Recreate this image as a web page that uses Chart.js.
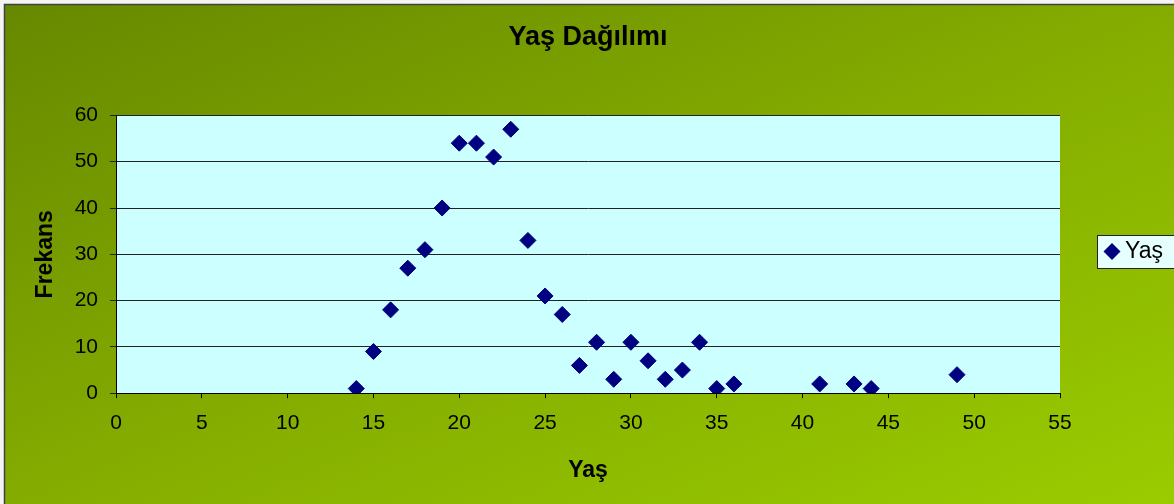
<!DOCTYPE html>
<html>
<head>
<meta charset="utf-8">
<script src="https://cdn.jsdelivr.net/npm/chart.js@4.4.1/dist/chart.umd.min.js"></script>
<style>
  html, body { margin: 0; padding: 0; background: #fff; }
  #wrap { width: 1174px; height: 504px; position: relative; }
</style>
</head>
<body>
<div id="wrap"><canvas id="ageChart"></canvas></div>
<script>
// ages (x) and their frequency (y)
const ages = [14, 15, 16, 17, 18, 19, 20, 21, 22, 23, 24, 25, 26, 27, 28, 29, 30, 31, 32, 33, 34, 35, 36, 41, 43, 44, 49];
const counts = [1, 9, 18, 27, 31, 40, 54, 54, 51, 57, 33, 21, 17, 6, 11, 3, 11, 7, 3, 5, 11, 1, 2, 2, 2, 1, 4];
const xTicks = [0, 5, 10, 15, 20, 25, 30, 35, 40, 45, 50, 55];
const yTicks = [0, 10, 20, 30, 40, 50, 60];

const points = ages.map((a, i) => ({ x: a, y: counts[i] }));
const FONT = '"Liberation Sans", Arial, sans-serif';

// background gradient, plot fill and the boxed legend
const backdrop = {
  id: 'backdrop',
  beforeDraw(chart) {
    const ctx = chart.ctx;
    const a = chart.chartArea;
    ctx.save();
    ctx.fillStyle = '#f4f4f4';
    ctx.fillRect(0, 0, chart.width, chart.height);
    const g = ctx.createLinearGradient(0, 0, 365, 851);
    g.addColorStop(0, '#668800');
    g.addColorStop(0.5, '#84ac00');
    g.addColorStop(1, '#9acc00');
    ctx.fillStyle = g;
    ctx.fillRect(5, 5, chart.width, chart.height);
    ctx.strokeStyle = '#404040';
    ctx.lineWidth = 1.5;
    ctx.strokeRect(4.5, 4.5, chart.width + 10, chart.height + 10);
    ctx.fillStyle = '#ccffff';
    ctx.fillRect(a.left, a.top, a.right - a.left, a.bottom - a.top);
    ctx.restore();
  },
  afterDraw(chart) {
    const ctx = chart.ctx;
    ctx.save();
    ctx.fillStyle = '#e6ffff';
    ctx.fillRect(1097, 235, 90, 33);
    ctx.strokeStyle = '#222';
    ctx.lineWidth = 1;
    ctx.strokeRect(1097.5, 235.5, 90, 33);
    // marker
    ctx.fillStyle = '#000080';
    ctx.beginPath();
    ctx.moveTo(1112, 243);
    ctx.lineTo(1120.5, 251.5);
    ctx.lineTo(1112, 260);
    ctx.lineTo(1103.5, 251.5);
    ctx.closePath();
    ctx.fill();
    ctx.fillStyle = '#000';
    ctx.font = '23px ' + FONT;
    ctx.textBaseline = 'middle';
    ctx.fillText('Yaş', 1125, 252);
    ctx.restore();
  }
};

const ctx = document.getElementById('ageChart').getContext('2d');
new Chart(ctx, {
  type: 'scatter',
  data: {
    datasets: [{
      label: 'Yaş',
      data: points,
      pointStyle: 'rectRot',
      pointRadius: 8,
      pointHoverRadius: 8,
      backgroundColor: '#000080',
      borderColor: '#000080',
      borderWidth: 1
    }]
  },
  options: {
    responsive: true,
    maintainAspectRatio: false,
    animation: false,
    layout: { padding: { left: 10, right: 114, top: 0, bottom: 0 } },
    plugins: {
      legend: { display: false },
      tooltip: { enabled: false },
      title: {
        display: true,
        fullSize: false,
        text: 'Yaş Dağılımı',
        color: '#000',
        font: { family: FONT, size: 27, weight: 'bold' },
        padding: { top: 21, bottom: 62 }
      }
    },
    scales: {
      x: {
        type: 'linear',
        min: 0,
        max: 55,
        afterBuildTicks: s => { s.ticks = xTicks.map(v => ({ value: v })); },
        ticks: {
          color: '#000',
          padding: 12,
          font: { family: FONT, size: 21 }
        },
        grid: { drawOnChartArea: false, drawTicks: true, tickLength: 5, color: '#000' },
        border: { color: '#000', width: 1 },
        title: {
          display: true,
          text: 'Yaş',
          color: '#000',
          font: { family: FONT, size: 23, weight: 'bold' },
          padding: { top: 9, bottom: 20 }
        }
      },
      y: {
        min: 0,
        max: 60,
        afterBuildTicks: s => { s.ticks = yTicks.map(v => ({ value: v })); },
        afterFit: s => { s.width = 106; },
        ticks: {
          color: '#000',
          padding: 12,
          font: { family: FONT, size: 21 }
        },
        grid: { color: '#222', tickLength: 6, lineWidth: 1 },
        border: { color: '#000', width: 1 },
        title: {
          display: true,
          text: 'Frekans',
          color: '#000',
          font: { family: FONT, size: 23, weight: 'bold' },
          padding: { top: 22, bottom: 10 }
        }
      }
    }
  },
  plugins: [backdrop]
});
</script>
</body>
</html>
